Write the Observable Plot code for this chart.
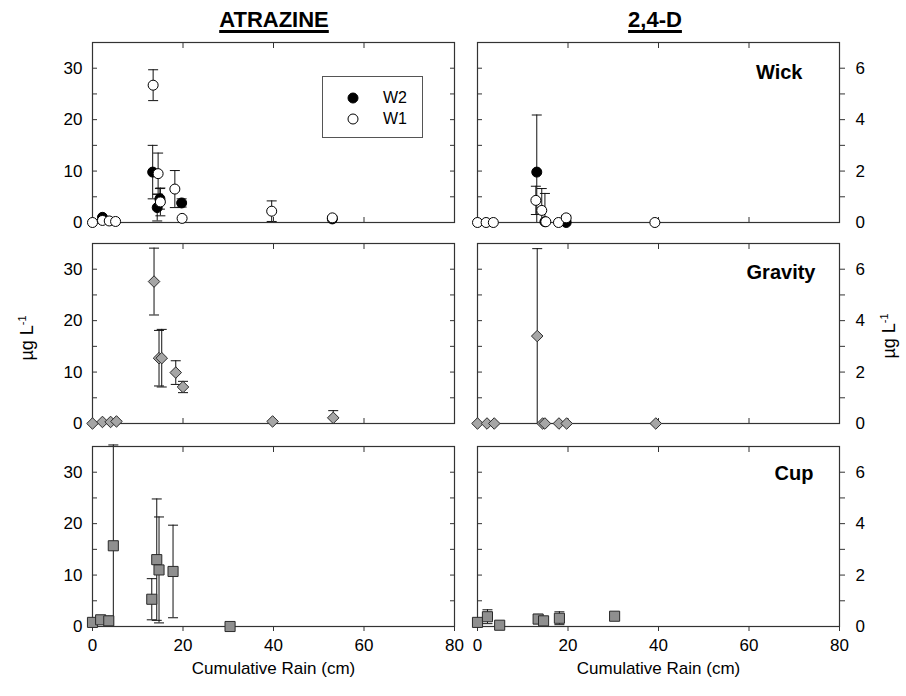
<!DOCTYPE html>
<html>
<head>
<meta charset="utf-8">
<script src="https://cdn.jsdelivr.net/npm/d3@7"></script>
<script src="https://cdn.jsdelivr.net/npm/@observablehq/plot@0.6"></script>
<style>
  html, body { margin: 0; padding: 0; background: #fff; }
  #root { position: relative; width: 906px; height: 696px; overflow: hidden; font-family: "Liberation Sans", Arial, Helvetica, sans-serif; color: #000; }
  .abs { position: absolute; }
  .title { font-weight: bold; font-size: 22px; text-decoration: underline; text-decoration-thickness: 2.5px; text-underline-offset: 3px; transform: translateX(-50%); white-space: nowrap; line-height: 22px; }
  .ylab { font-size: 18px; white-space: nowrap; transform: translate(-50%, -50%) rotate(-90deg); line-height: 18px; }
  .ylab sup { font-size: 11px; vertical-align: 7px; line-height: 0; }
  #legend { border: 1px solid #555; background: #fff; box-sizing: border-box; }
  .lrow { position: absolute; left: 0; font-size: 16px; line-height: 16px; display: flex; align-items: center; }
</style>
</head>
<body>
<div id="root"></div>
<script>
// ---------------- data: [cumulative rain (cm), concentration (µg/L), error] ----------------
const wickAtrazineW2 = [[2.2, 1.0, 0], [13.3, 9.8, 5.2], [14.3, 2.9, 2.6], [14.9, 4.6, 2.0], [19.7, 3.8, 0.8], [53.0, 0.7, 0]];
const wickAtrazineW1 = [[0, 0, 0], [2.2, 0.4, 0], [3.7, 0.3, 0], [5.1, 0.2, 0], [13.4, 26.7, 3.0], [14.5, 9.5, 4.0], [15.0, 4.0, 2.7], [18.2, 6.5, 3.6], [19.8, 0.8, 0], [39.6, 2.2, 2.0], [53.0, 0.9, 0.3]];
const wick24DW2 = [[13.1, 1.96, 2.22], [14.9, 0.03, 1.1], [19.6, 0, 0]];
const wick24DW1 = [[0, 0, 0], [1.9, 0, 0], [3.5, 0, 0], [12.9, 0.86, 0.55], [14.2, 0.47, 0.85], [15.1, 0.03, 0], [17.9, 0, 0], [19.6, 0.18, 0.1], [39.2, 0, 0]];
const gravityAtrazine = [[0, 0, 0], [2.2, 0.3, 0], [4.0, 0.3, 0], [5.3, 0.4, 0], [13.6, 27.6, 6.5], [14.7, 12.7, 5.4], [15.3, 12.7, 5.6], [18.4, 9.9, 2.3], [20.0, 7.1, 1.1], [39.8, 0.4, 0], [53.2, 1.1, 1.4]];
const gravity24D = [[0, 0, 0], [2.1, 0, 0], [3.7, 0, 0], [13.2, 3.4, 3.4], [14.4, 0, 0], [14.9, 0, 0], [18.0, 0, 0], [19.7, 0, 0], [39.4, 0, 0]];
const cupAtrazine = [[0, 0.8, 0], [1.8, 1.3, 0.7], [3.6, 1.1, 0.9], [4.6, 15.7, 19.6], [13.1, 5.3, 4.0], [14.2, 13.0, 11.8], [14.7, 11.0, 10.3], [17.8, 10.7, 9.0], [30.4, 0, 0]];
const cup24D = [[0, 0.16, 0], [2.2, 0.38, 0.27], [4.9, 0.05, 0], [13.4, 0.29, 0.18], [14.6, 0.22, 0], [18.1, 0.32, 0.25], [30.3, 0.40, 0]];

// ---------------- labels & ticks ----------------
const columnTitles = ["ATRAZINE", "2,4-D"];
const samplerLabels = ["Wick", "Gravity", "Cup"];
const legendLabels = ["W2", "W1"];
const xLabel = "Cumulative Rain (cm)";
const rainTicks = [0, 20, 40, 60, 80];
const rainInnerTicks = [20, 40, 60];
const atrazineTicks = [0, 10, 20, 30];
const atrazineMinorTicks = [5, 10, 15, 20, 25, 30];
const d24Ticks = [0, 2, 4, 6];
const d24MinorTicks = [1, 2, 3, 4, 5, 6];
const atrazineDomain = [0, 35];
const d24Domain = [0, 7];
const rainDomain = [0, 80];

// ---------------- layout ----------------
const FONT = '"Liberation Sans", Arial, Helvetica, sans-serif';
const FRAME_X = [92, 477];
const FRAME_W = 362;
const FRAME_Y = [42, 243, 446];
const FRAME_H = 180;
const ML = 50, MR = 50, MT = 10;
const INK = "#333";
const intFmt = d3.format("d");

const STYLE = {
  filled: {symbol: "circle", r: 5, fill: "#000", stroke: "#000", strokeWidth: 1},
  open: {symbol: "circle", r: 5, fill: "#fff", stroke: "#000", strokeWidth: 1},
  diamond: {symbol: "diamond2", r: 5.2, fill: "#a6a6a6", stroke: "#2a2a2a", strokeWidth: 1},
  square: {symbol: "square", r: 5.7, fill: "#8f8f8f", stroke: "#2a2a2a", strokeWidth: 1}
};

const cap = {draw(ctx, size) { const r = Math.sqrt(size / Math.PI); ctx.moveTo(-r, 0); ctx.lineTo(r, 0); }};

function rows(arr) { return arr.map(([x, y, e]) => ({x, y, e, lo: Math.max(0, y - e), hi: y + e})); }

const panels = [
  {row: 0, col: 0, series: [{data: wickAtrazineW2, kind: "filled"}, {data: wickAtrazineW1, kind: "open"}]},
  {row: 0, col: 1, series: [{data: wick24DW2, kind: "filled"}, {data: wick24DW1, kind: "open"}], label: samplerLabels[0], ldx: -37, ldy: 22},
  {row: 1, col: 0, series: [{data: gravityAtrazine, kind: "diamond"}]},
  {row: 1, col: 1, series: [{data: gravity24D, kind: "diamond"}], label: samplerLabels[1], ldx: -24, ldy: 21},
  {row: 2, col: 0, series: [{data: cupAtrazine, kind: "square"}]},
  {row: 2, col: 1, series: [{data: cup24D, kind: "square"}], label: samplerLabels[2], ldx: -26, ldy: 19}
];

const root = document.getElementById("root");

function buildPanel(p) {
  const left = p.col === 0;
  const bottom = p.row === 2;
  const MB = bottom ? 60 : 10;
  const minor = left ? atrazineMinorTicks : d24MinorTicks;
  const major = left ? atrazineTicks : d24Ticks;
  const marks = [];

  for (const s of p.series) {
    const r = rows(s.data).filter(d => d.e > 0);
    marks.push(Plot.ruleX(r, {x: "x", y1: "lo", y2: "hi", stroke: "#111", strokeWidth: 1}));
    marks.push(Plot.dot(r, {x: "x", y: "hi", symbol: cap, r: 5, stroke: "#111", fill: "none", strokeWidth: 1}));
    marks.push(Plot.dot(r, {x: "x", y: "lo", symbol: cap, r: 5, stroke: "#111", fill: "none", strokeWidth: 1}));
  }

  marks.push(Plot.frame({stroke: INK, strokeWidth: 1.2}));

  // x ticks
  marks.push(Plot.axisX({anchor: "top", ticks: rainInnerTicks, tickSize: 5, dy: 5, fill: "none", stroke: INK, label: null}));
  if (!bottom) {
    marks.push(Plot.axisX({anchor: "bottom", ticks: rainInnerTicks, tickSize: 5, dy: -5, fill: "none", stroke: INK, label: null}));
  } else {
    marks.push(Plot.axisX({anchor: "bottom", ticks: rainTicks, tickSize: 5, tickPadding: 7, tickFormat: intFmt, stroke: INK, label: null, fontSize: 17}));
    marks.push(Plot.text([xLabel], {text: d => d, frameAnchor: "bottom", dy: 47, fontSize: 17}));
  }

  // y ticks
  if (left) {
    marks.push(Plot.axisY({anchor: "left", ticks: major, tickSize: 0, tickPadding: 10, tickFormat: intFmt, label: null, fontSize: 17}));
    marks.push(Plot.axisY({anchor: "left", ticks: minor, tickSize: 5, dx: 5, fill: "none", stroke: INK, label: null}));
    marks.push(Plot.axisY({anchor: "right", ticks: minor, tickSize: 5, dx: -5, fill: "none", stroke: INK, label: null}));
  } else {
    marks.push(Plot.axisY({anchor: "left", ticks: minor, tickSize: 5, dx: 5, fill: "none", stroke: INK, label: null}));
    marks.push(Plot.axisY({anchor: "right", ticks: minor, tickSize: 5, fill: "none", stroke: INK, label: null}));
    marks.push(Plot.axisY({anchor: "right", ticks: major, tickSize: 0, tickPadding: 16, tickFormat: intFmt, label: null, fontSize: 17}));
  }

  for (const s of p.series) {
    marks.push(Plot.dot(rows(s.data), {x: "x", y: "y", ...STYLE[s.kind]}));
  }

  if (p.label) {
    marks.push(Plot.text([p.label], {text: d => d, frameAnchor: "top-right", textAnchor: "end", lineAnchor: "top", dx: p.ldx, dy: p.ldy, fontWeight: "bold", fontSize: 20}));
  }

  const chart = Plot.plot({
    width: FRAME_W + ML + MR,
    height: FRAME_H + MT + MB,
    marginLeft: ML, marginRight: MR, marginTop: MT, marginBottom: MB,
    x: {domain: rainDomain},
    y: {domain: left ? atrazineDomain : d24Domain},
    style: {fontFamily: FONT, fontSize: "16px", background: "transparent", overflow: "visible", color: "#000"},
    marks
  });
  const wrap = document.createElement("div");
  wrap.className = "abs";
  wrap.style.left = (FRAME_X[p.col] - ML) + "px";
  wrap.style.top = (FRAME_Y[p.row] - MT) + "px";
  wrap.appendChild(chart);
  root.appendChild(wrap);
}

panels.forEach(buildPanel);

// column titles
const titleCenters = [274, 655];
columnTitles.forEach((t, i) => {
  const d = document.createElement("div");
  d.className = "abs title";
  d.style.left = titleCenters[i] + "px";
  d.style.top = "9px";
  d.textContent = t;
  root.appendChild(d);
});

// y-axis titles
[[27, 338], [889, 336]].forEach(([x, y]) => {
  const d = document.createElement("div");
  d.className = "abs ylab";
  d.style.left = x + "px";
  d.style.top = y + "px";
  d.innerHTML = "µg L<sup>-1</sup>";
  root.appendChild(d);
});

// legend
const legend = document.createElement("div");
legend.id = "legend";
legend.className = "abs";
legend.style.left = "322px";
legend.style.top = "76px";
legend.style.width = "101px";
legend.style.height = "62px";
const legendKinds = ["filled", "open"];
legendLabels.forEach((lab, i) => {
  const row = document.createElement("div");
  row.className = "lrow";
  row.style.top = (13 + i * 21) + "px";
  const st = STYLE[legendKinds[i]];
  row.innerHTML = `<svg width="60" height="14" style="display:block"><circle cx="30" cy="7" r="5" fill="${st.fill}" stroke="${st.stroke}"/></svg><span>${lab}</span>`;
  legend.appendChild(row);
});
root.appendChild(legend);
</script>
</body>
</html>
